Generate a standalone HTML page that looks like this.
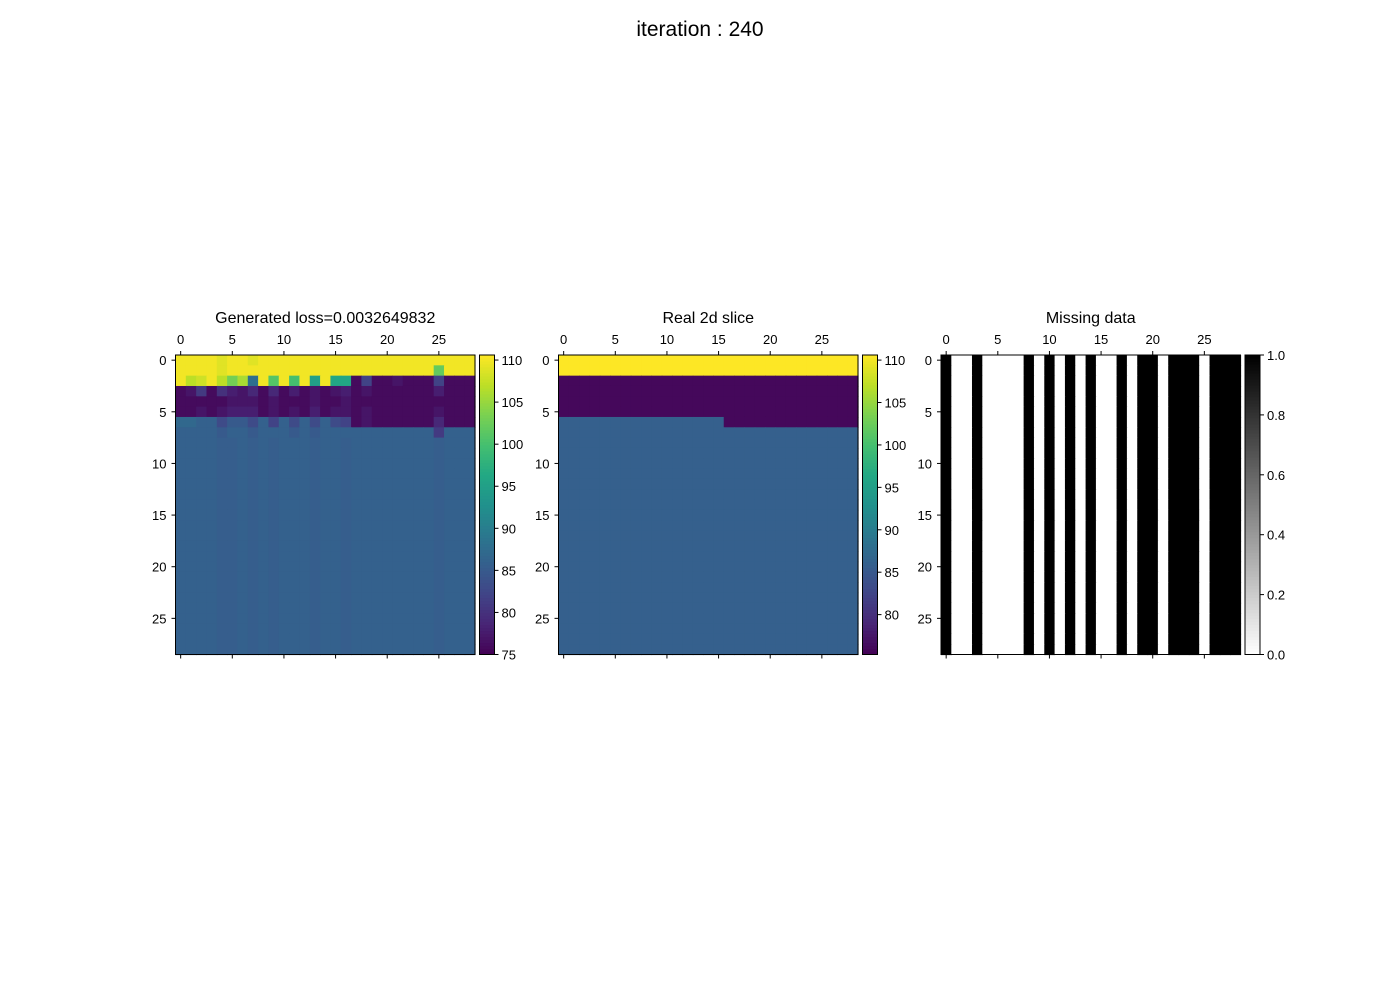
<!DOCTYPE html>
<html><head><meta charset="utf-8"><style>
body{margin:0;background:#fff;}
svg{display:block;font-family:"Liberation Sans",sans-serif;}
</style></head><body>
<svg id="fig" width="1400" height="1000">
<text x="700" y="36" font-size="21" text-anchor="middle">iteration : 240</text>
</svg>
<script>
const N = 29;
// Generated panel rows (values)
const genRow0 = [110,110,110,110,109,110,110,109,110,110,110,110,110,110,110,110,110,110,110,110,110,110,110,110,110,110,110,110,110];
const genRow1 = [110,110,110,110,109,110,110,110,110,110,110,110,110,110,110,110,110,110,110,110,110,110,110,110,110,102,110,110,110];
const genRow2 = [110,107,108,110,107,103,106,88,110,101,110,100,110,95,110,96,96,76,82,76,76,77,76,76,76,82,76,76,76];
const genRow3 = [76,77,81,76,80,78,77,79,76,79,76,78,76,77,76,77,78,76,77,76,76,76,76,76,76,78,76,76,76];
const genRow4 = [76,76,76,76,76,77,77,77,76,77,76,76,76,77,76,76,77,76,76,76,76,76,76,76,76,76,76,76,76];
const genRow5 = [76,76,77,76,77,78,78,78,76,77,76,77,76,78,76,77,77,76,77,76,76,76,76,76,76,77,76,76,76];
const genRow6 = [87,87,86,86,83,85,85,83,86,82,86,83,86,83,86,83,82,76,77,76,76,76,76,76,76,79,76,76,76];
const genRow7 = [86,86,86,86,85,86,86,85,86,86,86,85,86,85,86,86,86,86,86,86,86,86,86,86,86,81,86,86,86];
const genBase = [86,86,86,86,85.5,85.5,86,85.5,86,85.5,86,86,86,85.5,86,86,85.5,86,86,86,86,86,86,86,86,85.5,86,86,86];
// Real slice rows
const realTop = [111,111,111,111,111,111,111,111,111,111,111,111,111,111,111,111,111,111,111,111,111,111,111,111,111,111,111,111,111];
const realLow = [76,76,76,76,76,76,76,76,76,76,76,76,76,76,76,76,76,76,76,76,76,76,76,76,76,76,76,76,76];
const realRow6 = [86,86,86,86,86,86,86,86,86,86,86,86,86,86,86,86,76,76,76,76,76,76,76,76,76,76,76,76,76];
const realBase = [86,86,86,86,86,86,86,86,86,86,86,86,86,86,86,86,86,86,86,86,86,86,86,86,86,86,86,86,86];
// Missing data mask per column (1=black)
const maskCols = [1,0,0,1,0,0,0,0,1,0,1,0,1,0,1,0,0,1,0,1,1,0,1,1,1,0,1,1,1];
const xTicks = [0,5,10,15,20,25];
const yTicks = [0,5,10,15,20,25];
const cbTicks1 = [75,80,85,90,95,100,105,110];
const cbTicks2 = [80,85,90,95,100,105,110];
const cbTicks3 = [0,0.2,0.4,0.6,0.8,1.0];

const genGrid = [genRow0,genRow1,genRow2,genRow3,genRow4,genRow5,genRow6,genRow7];
while (genGrid.length < N) genGrid.push(genBase);
const realGrid = [realTop,realTop,realLow,realLow,realLow,realLow,realRow6];
while (realGrid.length < N) realGrid.push(realBase);
const maskGrid = [];
for (let r=0;r<N;r++) maskGrid.push(maskCols);

const VIR = [[68,1,84],[72,36,117],[65,68,135],[53,95,141],[42,120,142],[33,145,140],[34,168,132],[68,191,112],[122,209,81],[189,223,38],[253,231,37]];
function viridis(t){t=Math.max(0,Math.min(1,t));const p=t*(VIR.length-1);const i=Math.min(VIR.length-2,Math.floor(p));const f=p-i;
 const c=VIR[i].map((v,k)=>Math.round(v+(VIR[i+1][k]-v)*f));return `rgb(${c[0]},${c[1]},${c[2]})`;}
function gray(t){const v=Math.round(255*(1-t));return `rgb(${v},${v},${v})`;}

const svg=document.getElementById('fig');
const NS='http://www.w3.org/2000/svg';
function el(tag,attrs,parent){const e=document.createElementNS(NS,tag);for(const k in attrs)e.setAttribute(k,attrs[k]);(parent||svg).appendChild(e);return e;}

function panel(idx,left,title,grid,cmap,vmin,vmax,cbTicks,cbFmt){
 const top=355,size=299.5,w=size/N;
 const g=el('g',{});
 
 
 const xs=c=>left+c*w, ys=r=>top+r*w;
 for(let r=0;r<N;r++)for(let c=0;c<N;c++){
  const t=(grid[r][c]-vmin)/(vmax-vmin);
  const rc=el('rect',{x:xs(c),y:ys(r),width:w+0.6,height:w+0.6,fill:cmap(t)},g);
  
  
 }
 el('rect',{x:left,y:top,width:size,height:size,fill:'none',stroke:'#000','stroke-width':1},g);
 const tt=el('text',{x:left+size/2,y:323,'font-size':16,'text-anchor':'middle'},g);tt.textContent=title;
 
 
 xTicks.forEach(v=>{const x=xs(v+0.5);
  el('line',{x1:x,x2:x,y1:top,y2:top-4,stroke:'#000'},g);
  el('line',{x1:x,x2:x,y1:top+size,y2:top+size+4,stroke:'#000'},g);
  const t=el('text',{x:x,y:top-11,'font-size':13,'text-anchor':'middle'},g);t.textContent=v;
  
  });
 yTicks.forEach(v=>{const y=ys(v+0.5);
  el('line',{x1:left,x2:left-4,y1:y,y2:y,stroke:'#000'},g);
  const t=el('text',{x:left-9,y:y+5,'font-size':13,'text-anchor':'end'},g);t.textContent=v;
  
  });
 const cx=left+size+4.5,cw=15;
 const cb=el('g',{},g);
 
 
 const steps=100;
 for(let i=0;i<steps;i++){el('rect',{x:cx,y:top+size-(i+1)*size/steps,width:cw,height:size/steps+0.5,fill:cmap((i+0.5)/steps)},cb);}
 el('rect',{x:cx,y:top,width:cw,height:size,fill:'none',stroke:'#000','stroke-width':1},cb);
 cbTicks.forEach(v=>{const y=top+size-(v-vmin)/(vmax-vmin)*size;
  el('line',{x1:cx+cw,x2:cx+cw+4,y1:y,y2:y,stroke:'#000'},cb);
  const t=el('text',{x:cx+cw+7,y:y+5,'font-size':13},cb);t.textContent=cbFmt(v);
  
  });
}
panel(1,175.5,'Generated loss=0.0032649832',genGrid,viridis,75,110.6,cbTicks1,v=>v);
panel(2,558.5,'Real 2d slice',realGrid,viridis,75.3,110.6,cbTicks2,v=>v);
panel(3,941,'Missing data',maskGrid,gray,0,1,cbTicks3,v=>v.toFixed(1));
</script>
</body></html>
